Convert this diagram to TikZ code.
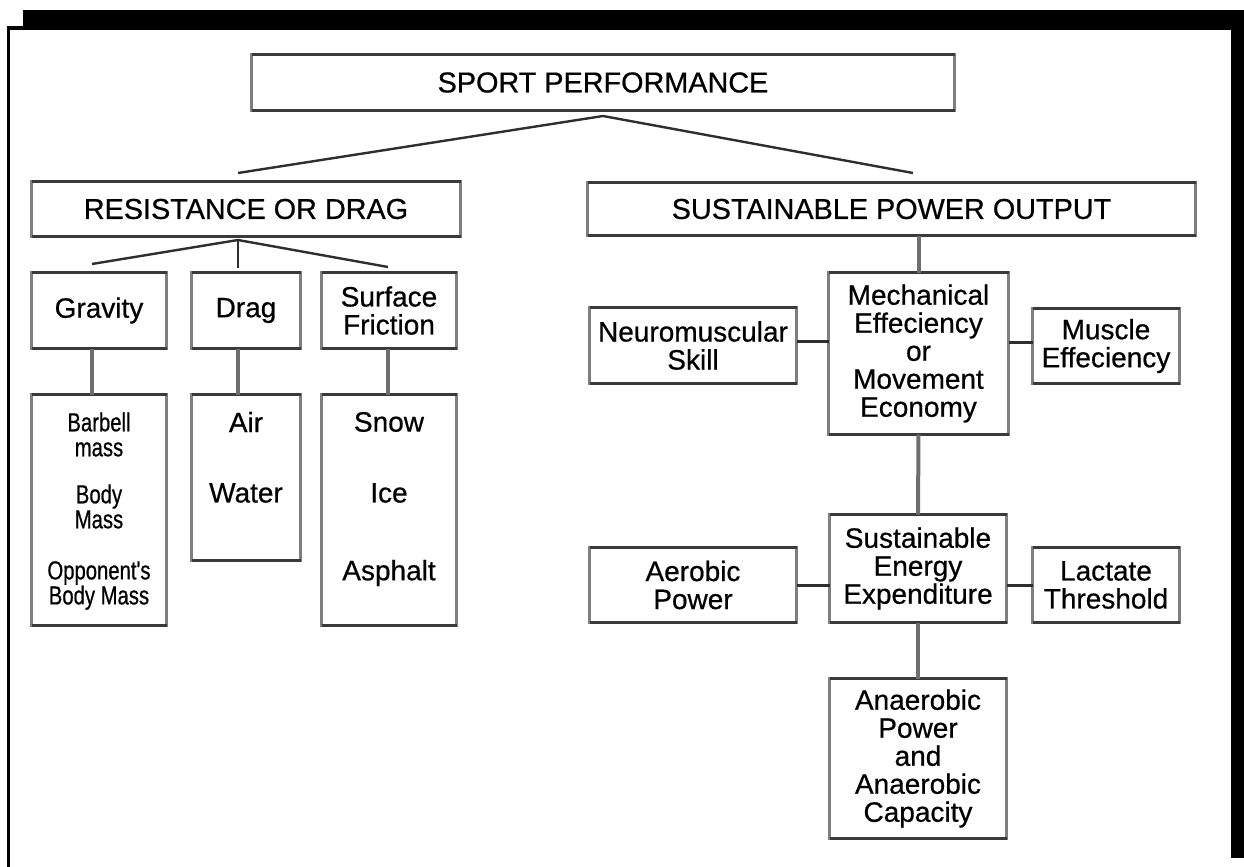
\documentclass[tikz,border=0pt]{standalone}
\usepackage{fontspec}
\setmainfont{Liberation Sans}[FakeBold=0.6]
\newfontfamily\narrowfont[FakeStretch=0.78,FakeBold=0.6]{Liberation Sans}
\definecolor{boxgray}{HTML}{7F7F7F}
\definecolor{boxdark}{HTML}{3A3A3A}
\definecolor{linkgray}{HTML}{6E6E6E}
\definecolor{linkdark}{HTML}{2E2E2E}
\tikzset{
  box/.style={draw=boxgray,line width=1.8pt,fill=white,inner sep=0pt,outer sep=0pt,
    align=center,font=\fontsize{14}{14}\selectfont},
  titlebox/.style={box,font=\fontsize{14.4}{14.4}\selectfont},
  rimline/.style={draw=boxdark,line width=1.4pt},
  vlink/.style={draw=linkgray,line width=2pt},
  hlink/.style={draw=linkdark,line width=1.5pt},
  slant/.style={draw=linkdark,line width=1.2pt},
  itemtext/.style={align=center,inner sep=0pt,font=\fontsize{14}{14}\selectfont},
  narrowtext/.style={align=center,inner sep=0pt,font=\narrowfont\fontsize{13}{12.5}\selectfont}
}
\begin{document}
\begin{tikzpicture}[x=0.5pt,y=-0.5pt]
    \useasboundingbox (0,0) rectangle (1244,867);
    % frame
    \fill[black] (23,10) rectangle (1244,30);
    \fill[black] (7,26) rectangle (23,30);
    \fill[black] (7,26) rectangle (10,867);
    \fill[black] (1231,30) rectangle (1244,858);
    % top levels
    \node[titlebox,minimum width=351.5pt,minimum height=28pt] (sport) at (603,82.5) {SPORT PERFORMANCE};
    \node[titlebox,minimum width=214.5pt,minimum height=27.5pt] (resist) at (246,209) {RESISTANCE OR DRAG};
    \node[titlebox,minimum width=304pt,minimum height=26.5pt] (sustain) at (891.5,209) {SUSTAINABLE POWER OUTPUT};
    % resistance side
    \node[box,minimum width=67.5pt,minimum height=38pt] (gravity) at (99,310.5) {Gravity};
    \node[box,minimum width=54.5pt,minimum height=38pt] (drag) at (246,310.5) {Drag};
    \node[box,minimum width=67.5pt,minimum height=38pt] (surface) at (389,310.5) {Surface\\Friction};
    \node[box,minimum width=67.5pt,minimum height=115.5pt] (barbell) at (99,510) {};
    \node[box,minimum width=54.5pt,minimum height=83pt] (air) at (246,477.5) {};
    \node[box,minimum width=67.5pt,minimum height=115.5pt] (snow) at (389,510) {};
    \node[narrowtext] (barbelltxt) at (99,434.5) {Barbell\\mass};
    \node[narrowtext] (bodytxt) at (99,506.5) {Body\\Mass};
    \node[narrowtext] (opponenttxt) at (99,585.5) {Opponent's\\Body Mass};
    \node[itemtext] (airtxt) at (246,422) {Air};
    \node[itemtext] (watertxt) at (246,493) {Water};
    \node[itemtext] (snowtxt) at (389,422) {Snow};
    \node[itemtext] (icetxt) at (389,493) {Ice};
    \node[itemtext] (asphalttxt) at (389,573) {Asphalt};
    % power side
    \node[box,minimum width=103.5pt,minimum height=38pt] (neuro) at (693,345.5) {Neuromuscular\\Skill};
    \node[box,minimum width=90pt,minimum height=81pt] (mech) at (918.5,353.5) {Mechanical\\Effeciency\\or\\Movement\\Economy};
    \node[box,minimum width=73.5pt,minimum height=37.5pt] (muscle) at (1106,346) {Muscle\\Effeciency};
    \node[box,minimum width=88.5pt,minimum height=54pt] (energy) at (918,568.5) {Sustainable\\Energy\\Expenditure};
    \node[box,minimum width=103.5pt,minimum height=37.5pt] (aerobic) at (693,585) {Aerobic\\Power};
    \node[box,minimum width=73.5pt,minimum height=37.5pt] (lactate) at (1106,585) {Lactate\\Threshold};
    \node[box,minimum width=88.5pt,minimum height=80pt] (anaer) at (918,758.5) {Anaerobic\\Power\\and\\Anaerobic\\Capacity};
    % darker top and bottom rims
    \foreach \b in {sport,resist,sustain,gravity,drag,surface,barbell,air,snow,neuro,mech,muscle,energy,aerobic,lactate,anaer}
    \draw[rimline] (\b.north west) -- (\b.north east) (\b.south west) -- (\b.south east);
    % forks
    \coordinate (sportfork) at (603,116);
    \coordinate (resistin) at (238,173);
    \coordinate (sustainin) at (913,173);
    \draw[slant] (resistin) -- (sportfork) -- (sustainin);
    \coordinate (resistfork) at (238,240);
    \coordinate (gravin) at (92,264);
    \coordinate (dragin) at (238,268);
    \coordinate (surfin) at (388,267);
    \draw[slant] (gravin) -- (resistfork) -- (surfin);
    \draw[slant] (resistfork) -- (dragin);
    \draw[vlink] (gravity.south -| gravin) -- (barbell.north -| gravin);
    \draw[vlink] (drag.south -| dragin) -- (air.north -| dragin);
    \draw[vlink] (surface.south -| surfin) -- (snow.north -| surfin);
    \draw[vlink] (sustain.south -| mech.north) -- (mech.north);
    \draw[vlink] (mech.south) -- (energy.north);
    \draw[vlink] (energy.south) -- (anaer.north);
    \draw[hlink] ([yshift=2.25pt]neuro.east) -- ([yshift=2.25pt]neuro.east -| mech.west);
    \draw[hlink] ([yshift=2pt]muscle.west) -- ([yshift=2pt]muscle.west -| mech.east);
    \draw[hlink] (aerobic.east) -- (aerobic.east -| energy.west);
    \draw[hlink] (lactate.west) -- (lactate.west -| energy.east);
\end{tikzpicture}
\end{document}
